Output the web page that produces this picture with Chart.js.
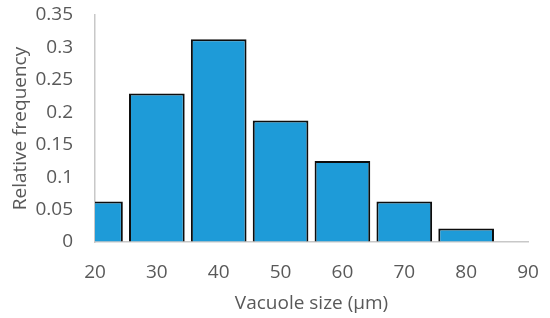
<!DOCTYPE html>
<html>
<head>
<meta charset="utf-8">
<script src="https://cdn.jsdelivr.net/npm/chart.js@4"></script>
<style>
html,body{margin:0;padding:0;background:#fff;}
#wrap{width:550px;height:318px;}
</style>
</head>
<body>
<div id="wrap"><canvas id="c" width="550" height="318"></canvas></div>
<script>
const binCenters = [20, 30, 40, 50, 60, 70, 80];
const relFreq = [0.0625, 0.229, 0.3125, 0.1875, 0.125, 0.0625, 0.0208];
const yTicks = [0, 0.05, 0.1, 0.15, 0.2, 0.25, 0.3, 0.35];
const xTicks = [20, 30, 40, 50, 60, 70, 80, 90];

const FONT = "'Open Sans', 'Noto Sans', sans-serif";
const GREY = '#595959';

new Chart(document.getElementById('c'), {
  type: 'bar',
  data: {
    datasets: [{
      data: binCenters.map((x, i) => ({x: x, y: relFreq[i]})),
      backgroundColor: '#1e9bd8',
      borderColor: '#0d0d0d',
      borderWidth: 2,
      barPercentage: 0.9,
      categoryPercentage: 1.0,
      clip: 0
    }]
  },
  options: {
    responsive: false,
    animation: false,
    events: [],
    layout: {padding: {left: 0, right: 22, top: 15, bottom: 0}},
    plugins: {legend: {display: false}, tooltip: {enabled: false}},
    scales: {
      x: {
        type: 'linear',
        offset: false,
        min: 20, max: 90,
        afterBuildTicks: s => { s.ticks = xTicks.map(v => ({value: v})); },
        afterFit: s => { s.height = 76; s.paddingLeft = 0; s.paddingRight = 0; },
        grid: {display: true, offset: false, drawOnChartArea: false, drawTicks: false},
        border: {display: true, color: '#c8c8c8', width: 1.5},
        ticks: {color: GREY, font: {family: FONT, size: 19}, padding: 19, maxRotation: 0, autoSkip: false},
        title: {display: true, text: 'Vacuole size (µm)', color: GREY, font: {family: FONT, size: 19}, padding: {top: 4, bottom: 3}}
      },
      y: {
        min: 0, max: 0.35,
        afterBuildTicks: s => { s.ticks = yTicks.map(v => ({value: v})); },
        afterFit: s => { s.width = 95; s.paddingTop = 0; s.paddingBottom = 0; },
        grid: {display: true, drawOnChartArea: false, drawTicks: false},
        border: {display: true, color: '#c8c8c8', width: 1.5},
        ticks: {color: GREY, font: {family: FONT, size: 19}, padding: 22, callback: v => String(+v.toFixed(2))},
        title: {display: true, text: 'Relative frequency', color: GREY, font: {family: FONT, size: 19}, padding: {top: 9, bottom: 9}}
      }
    }
  }
});
</script>
</body>
</html>
